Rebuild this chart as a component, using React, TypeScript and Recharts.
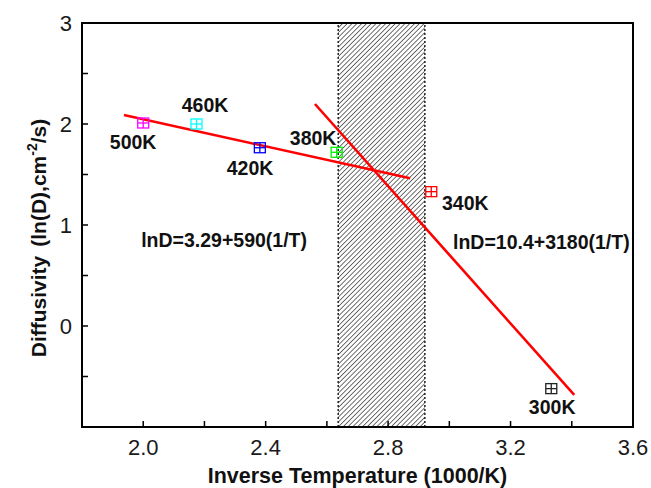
import React from 'react';
import { ComposedChart, Scatter, XAxis, YAxis, ReferenceArea, ReferenceLine } from 'recharts';

// measured points, 1000/T vs ln(D)
const temps = ['500K', '460K', '420K', '380K', '340K', '300K'];
const inverseT = [2.0, 2.174, 2.381, 2.632, 2.941, 3.333];
const lnD = [2.01, 2.0, 1.765, 1.72, 1.33, -0.62];
const markerColors = ['#ff00ff', '#00ffff', '#0000ff', '#00ee00', '#ff0000', '#222222'];

// where each temperature label sits (data units)
const labelX = [1.967, 2.202, 2.349, 2.555, 3.052, 3.336];
const labelY = [1.825, 2.188, 1.564, 1.861, 1.218, -0.802];

// the two fitted lines
const fitLow = [{ x: 1.937, y: 2.089 }, { x: 2.872, y: 1.462 }];
const fitHigh = [{ x: 2.561, y: 2.198 }, { x: 3.408, y: -0.683 }];

const equationText = ['lnD=3.29+590(1/T)', 'lnD=10.4+3180(1/T)'];
const equationX = [2.535, 3.012];
const equationY = [0.85, 0.83];

// transition band
const bandX = [2.637, 2.92];

const xDomain = [1.8, 3.6];
const yDomain = [-1, 3];
const xTicks = [2.0, 2.2, 2.4, 2.6, 2.8, 3.0, 3.2, 3.4, 3.6];
const yTicks = [-0.5, 0, 0.5, 1, 1.5, 2, 2.5, 3];
const xLabelled = ['2.0', '2.4', '2.8', '3.2', '3.6'];

const FONT = '"Liberation Sans", Arial, sans-serif';

const points = inverseT.map((x, i) => ({ x, y: lnD[i], color: markerColors[i] }));
const tempLabels = temps.map((t, i) => ({ x: labelX[i], y: labelY[i], text: t }));
const eqLabels = equationText.map((t, i) => ({ x: equationX[i], y: equationY[i], text: t, anchor: i === 0 ? 'end' : 'start' }));

const BoxMarker = (props: any) => {
    const { cx, cy, payload } = props;
    const w = 11, h = 10;
    const c = payload.color;
    return (
        <g stroke={c} strokeWidth={1.3} fill="none">
            <rect x={cx - w / 2} y={cy - h / 2} width={w} height={h} />
            <line x1={cx - w / 2} x2={cx + w / 2} y1={cy} y2={cy} />
            <line x1={cx} x2={cx} y1={cy - h / 2} y2={cy + h / 2} />
        </g>
    );
};

const TextMark = (props: any) => {
    const { cx, cy, payload } = props;
    return (
        <text x={cx} y={cy} dy="0.36em" textAnchor={payload.anchor || 'middle'}
            fontFamily={FONT} fontWeight="bold" fontSize={19.5} fill="#111">
            {payload.text}
        </text>
    );
};

const XTitle = (props: any) => {
    const vb = props.viewBox;
    return (
        <text x={vb.x + vb.width / 2} y={483} textAnchor="middle"
            fontFamily={FONT} fontWeight="bold" fontSize={21.5} fill="#111">
            Inverse Temperature (1000/K)
        </text>
    );
};

const YTitle = (props: any) => {
    const vb = props.viewBox;
    const cy = vb.y + vb.height / 2 + 13;
    return (
        <text x={0} y={0} transform={`translate(46, ${cy}) rotate(-90)`} textAnchor="middle"
            fontFamily={FONT} fontWeight="bold" fontSize={21} fill="#111">
            Diffusivity<tspan dx={9}>(ln(D),cm</tspan><tspan dy={-9} fontSize={14}>-2</tspan><tspan dy={9}>/s)</tspan>
        </text>
    );
};

export default function App() {
    return (
        <div style={{ position: 'absolute', left: 0, top: 0, width: 651, height: 488, background: '#fff' }}>
            <ComposedChart width={651} height={488} margin={{ top: 23, right: 18, bottom: 0, left: 0 }}>
                <defs>
                    <pattern id="hatch" width={3.4} height={3.4} patternUnits="userSpaceOnUse" patternTransform="rotate(45)">
                        <line x1={0} y1={0} x2={0} y2={3.4} stroke="#111" strokeWidth={1.2} />
                    </pattern>
                </defs>
                <XAxis
                    type="number"
                    dataKey="x"
                    domain={xDomain}
                    ticks={xTicks}
                    allowDataOverflow
                    height={61}
                    tickSize={-6}
                    tickMargin={18}
                    axisLine={{ stroke: '#000', strokeWidth: 2 }}
                    tickLine={{ stroke: '#000', strokeWidth: 1.5 }}
                    tick={{ fontSize: 22, fill: '#1a1a1a', fontFamily: FONT }}
                    tickFormatter={(v: number) => (xLabelled.includes(v.toFixed(1)) ? v.toFixed(1) : '')}
                    label={<XTitle />}
                />
                <YAxis
                    type="number"
                    dataKey="y"
                    domain={yDomain}
                    ticks={yTicks}
                    allowDataOverflow
                    width={82}
                    tickSize={-6}
                    tickMargin={16}
                    axisLine={{ stroke: '#000', strokeWidth: 2 }}
                    tickLine={{ stroke: '#000', strokeWidth: 1.5 }}
                    tick={{ fontSize: 22, fill: '#1a1a1a', fontFamily: FONT }}
                    tickFormatter={(v: number) => (Number.isInteger(v) ? String(v) : '')}
                    label={<YTitle />}
                />
                <ReferenceArea x1={bandX[0]} x2={bandX[1]} y1={yDomain[0]} y2={yDomain[1]} fill="url(#hatch)" fillOpacity={1} stroke="none" />
                <ReferenceLine x={bandX[0]} stroke="#222" strokeWidth={1.5} strokeDasharray="2 2" />
                <ReferenceLine x={bandX[1]} stroke="#222" strokeWidth={1.5} strokeDasharray="2 2" />
                <ReferenceArea x1={xDomain[0]} x2={xDomain[1]} y1={yDomain[0]} y2={yDomain[1]} fill="none" stroke="#000" strokeWidth={2} />
                <ReferenceLine segment={fitLow} stroke="#ff0000" strokeWidth={2.6} />
                <ReferenceLine segment={fitHigh} stroke="#ff0000" strokeWidth={2.6} />
                <Scatter data={points} shape={<BoxMarker />} isAnimationActive={false} />
                <Scatter data={tempLabels} shape={<TextMark />} isAnimationActive={false} />
                <Scatter data={eqLabels} shape={<TextMark />} isAnimationActive={false} />
            </ComposedChart>
        </div>
    );
}
